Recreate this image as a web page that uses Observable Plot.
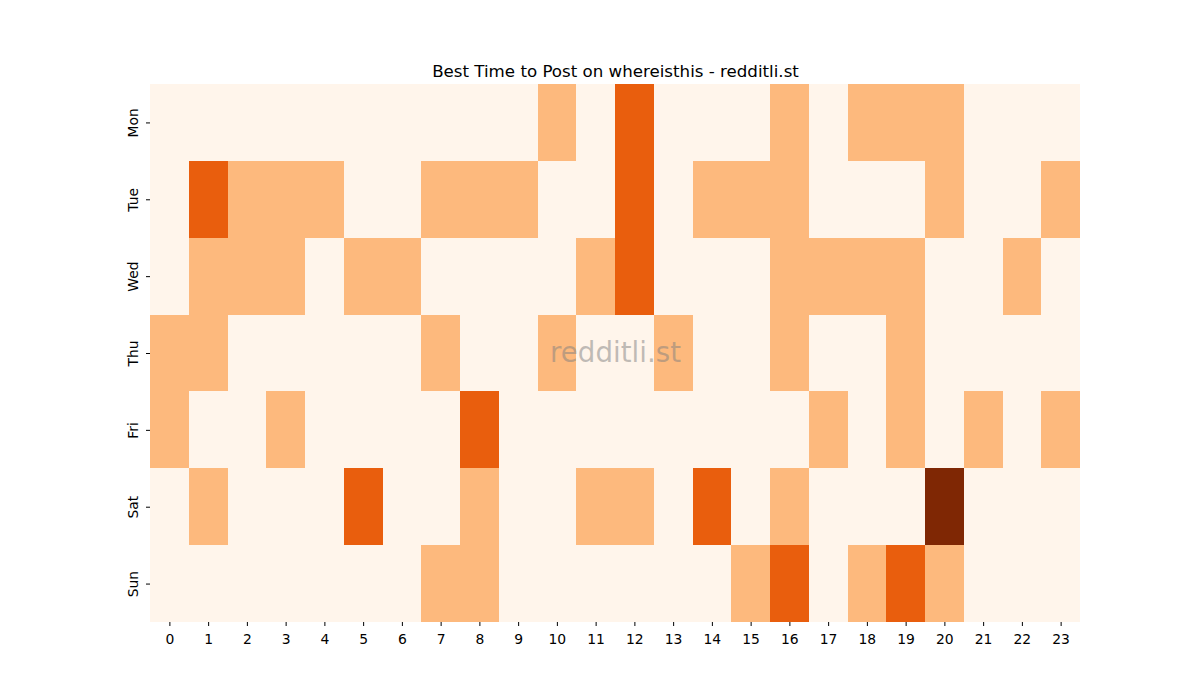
<!DOCTYPE html>
<html>
<head>
<meta charset="utf-8">
<script src="https://cdn.jsdelivr.net/npm/d3@7"></script>
<script src="https://cdn.jsdelivr.net/npm/@observablehq/plot@0.6"></script>
<style>
  html, body { margin: 0; padding: 0; background: #fff; }
  svg { font-family: "DejaVu Sans", sans-serif; }
</style>
</head>
<body>
<div id="chart"></div>
<script>
const title = "Best Time to Post on whereisthis - redditli.st";
const watermark = "redditli.st";
const days = ["Mon", "Tue", "Wed", "Thu", "Fri", "Sat", "Sun"];
const hours = d3.range(24);
// activity level per hour (0..23) for each day
const mon = [0,0,0,0,0,0,0,0,0,0,1,0,2,0,0,0,1,0,1,1,1,0,0,0];
const tue = [0,2,1,1,1,0,0,1,1,1,0,0,2,0,1,1,1,0,0,0,1,0,0,1];
const wed = [0,1,1,1,0,1,1,0,0,0,0,1,2,0,0,0,1,1,1,1,0,0,1,0];
const thu = [1,1,0,0,0,0,0,1,0,0,1,0,0,1,0,0,1,0,0,1,0,0,0,0];
const fri = [1,0,0,1,0,0,0,0,2,0,0,0,0,0,0,0,0,1,0,1,0,1,0,1];
const sat = [0,1,0,0,0,2,0,0,1,0,0,1,1,0,2,0,1,0,0,0,3,0,0,0];
const sun = [0,0,0,0,0,0,0,1,1,0,0,0,0,0,0,1,2,0,1,2,1,0,0,0];
const levels = [0, 1, 2, 3];
const levelColors = ["#fff5eb", "#fdb97d", "#e95e0d", "#7f2704"];

const rows = [mon, tue, wed, thu, fri, sat, sun];
const cells = [];
rows.forEach((r, i) => r.forEach((v, h) => cells.push({day: days[i], hour: h, value: v})));

const chart = Plot.plot({
  width: 1200,
  height: 700,
  marginLeft: 150,
  marginRight: 120,
  marginTop: 84,
  marginBottom: 78,
  style: {fontFamily: "DejaVu Sans, sans-serif", fontSize: "13.9px", color: "#000", background: "#fff"},
  x: {type: "band", domain: hours, padding: 0, round: false, label: null},
  y: {type: "band", domain: days, padding: 0, round: false, label: null},
  color: {type: "ordinal", domain: levels, range: levelColors},
  marks: [
    Plot.cell(cells, {x: "hour", y: "day", fill: "value", inset: 0, shapeRendering: "crispEdges"}),
    Plot.axisX({tickSize: 4, tickPadding: 8, fontSize: 13.9, label: null, stroke: "#000", color: "#000"}),
    Plot.axisY({tickSize: 4, tickFormat: () => "", label: null}),
    Plot.text(days, {y: d => d, frameAnchor: "left", textAnchor: "middle", dx: -17, rotate: -90, fontSize: 13.9, fill: "#000"}),
    Plot.text([watermark], {frameAnchor: "middle", fontSize: 27.7, fill: "#808080", fillOpacity: 0.5}),
    Plot.text([title], {frameAnchor: "top", dy: -19, fontSize: 16.67, fill: "#000"})
  ]
});
document.getElementById("chart").appendChild(chart);
</script>
</body>
</html>
